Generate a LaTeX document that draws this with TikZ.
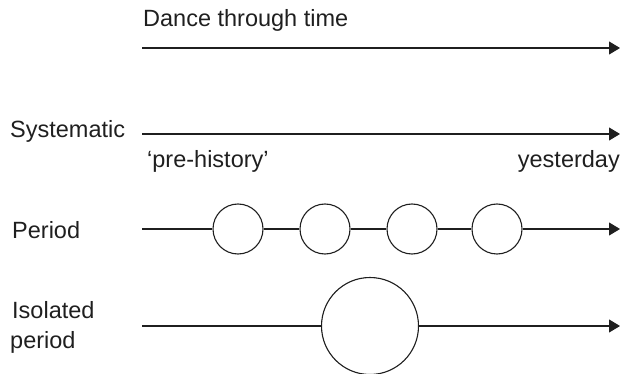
\documentclass[tikz,border=0pt]{standalone}
\usepackage{fontspec}
\setmainfont{Liberation Sans}
\usetikzlibrary{arrows.meta}

\begin{document}
\begin{tikzpicture}[x=1pt, y=-1pt,
  lbl/.style={inner sep=0pt, anchor=base west, font=\fontsize{23.5}{28}\selectfont, text=black!88},
  axis/.style={line width=1.1pt, draw=black!88},
  timearrow/.style={axis, -{Triangle[length=11pt, width=13pt]}},
  era/.style={circle, draw=black!88, line width=1.1pt, fill=white, inner sep=0pt, minimum size=#1},
]
  % canvas
  \useasboundingbox (0,0) rectangle (621,374);

  % row 1: general time line
  \node[lbl] (title) at (143,27) {Dance through time};
  \coordinate (t0) at (142,48);
  \coordinate (t1) at (620,48);
  \draw[timearrow] (t0) -- (t1);

  % row 2: systematic approach
  \node[lbl] (sys) at (10,138) {Systematic};
  \coordinate (s0) at (142,134);
  \coordinate (s1) at (620,134);
  \draw[timearrow] (s0) -- (s1);
  \node[lbl] (pre) at (147,168) {`pre-history'};
  \node[lbl, anchor=base east] (yest) at (620,168) {yesterday};

  % row 3: successive periods
  \node[lbl] (per) at (12,238) {Period};
  \coordinate (p0) at (142,229);
  \coordinate (p5) at (620,229);
  \node[era=50pt] (p1) at (238,229) {};
  \node[era=50pt] (p2) at (325,229) {};
  \node[era=50pt] (p3) at (412,229) {};
  \node[era=50pt] (p4) at (497,229) {};
  \draw[axis] (p0) -- (p1) -- (p2) -- (p3) -- (p4);
  \draw[timearrow] (p4) -- (p5);

  % row 4: one isolated period
  \node[lbl] (iso1) at (12,318) {Isolated};
  \node[lbl] (iso2) at (10,348) {period};
  \coordinate (i0) at (142,326);
  \coordinate (i2) at (620,326);
  \node[era=97pt] (i1) at (370,326) {};
  \draw[axis] (i0) -- (i1);
  \draw[timearrow] (i1) -- (i2);
\end{tikzpicture}
\end{document}
